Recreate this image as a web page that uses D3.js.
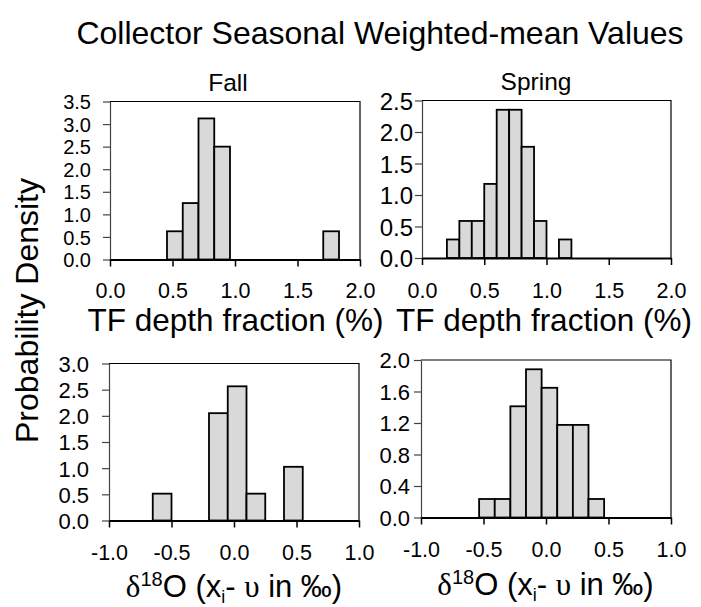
<!DOCTYPE html>
<html>
<head>
<meta charset="utf-8">
<script src="https://cdn.jsdelivr.net/npm/d3@7/dist/d3.min.js"></script>
<style>
  html, body { margin: 0; padding: 0; background: #fff; }
  svg { display: block; }
  text { font-family: "Liberation Sans", Arial, sans-serif; fill: #000; }
</style>
</head>
<body>
<svg id="chart" width="701" height="607"></svg>
<script>
// Histogram bins: lower edge, upper edge and probability density of each bar.
const fallTfX0 = [0.456, 0.582, 0.708, 0.834, 1.706];
const fallTfX1 = [0.582, 0.708, 0.834, 0.960, 1.832];
const fallTfDensity = [0.625, 1.25, 3.125, 2.5, 0.625];

const springTfX0 = [0.2, 0.3, 0.4, 0.5, 0.6, 0.7, 0.8, 0.9, 1.1];
const springTfX1 = [0.3, 0.4, 0.5, 0.6, 0.7, 0.8, 0.9, 1.0, 1.2];
const springTfDensity = [0.294, 0.588, 0.588, 1.176, 2.353, 2.353, 1.765, 0.588, 0.294];

const fallO18X0 = [-0.65, -0.2, -0.05, 0.1, 0.4];
const fallO18X1 = [-0.5, -0.05, 0.1, 0.25, 0.55];
const fallO18Density = [0.513, 2.051, 2.564, 0.513, 1.026];

const springO18X0 = [-0.535, -0.41, -0.285, -0.16, -0.035, 0.09, 0.215, 0.34];
const springO18X1 = [-0.41, -0.285, -0.16, -0.035, 0.09, 0.215, 0.34, 0.465];
const springO18Density = [0.235, 0.235, 1.412, 1.882, 1.647, 1.176, 1.176, 0.235];

// Axis ticks
const tfTicks = [0.0, 0.5, 1.0, 1.5, 2.0];
const o18Ticks = [-1.0, -0.5, 0.0, 0.5, 1.0];
const fallTfYTicks = [0.0, 0.5, 1.0, 1.5, 2.0, 2.5, 3.0, 3.5];
const springTfYTicks = [0.0, 0.5, 1.0, 1.5, 2.0, 2.5];
const fallO18YTicks = [0.0, 0.5, 1.0, 1.5, 2.0, 2.5, 3.0];
const springO18YTicks = [0.0, 0.4, 0.8, 1.2, 1.6, 2.0];

// Text
const chartTitle = "Collector Seasonal Weighted-mean Values";
const seasonLabels = ["Fall", "Spring"];
const yTitle = "Probability Density";
const tfTitle = "TF depth fraction (%)";

const svg = d3.select("#chart");
// one decimal, plain hyphen for negatives
const fmt = d3.formatLocale({ decimal: ".", thousands: ",", grouping: [3], currency: ["", ""], minus: "-" }).format(".1f");

function panel(cfg) {
  const x = d3.scaleLinear().domain(cfg.xDomain).range([cfg.left, cfg.right]);
  const y = d3.scaleLinear().domain(cfg.yDomain).range([cfg.bottom, cfg.top]);
  const g = svg.append("g");

  const bins = cfg.x0.map((d, i) => ({ x0: d, x1: cfg.x1[i], v: cfg.dens[i] }));
  g.selectAll("rect.bar").data(bins).join("rect")
    .attr("class", "bar")
    .attr("x", d => x(d.x0))
    .attr("y", d => y(d.v))
    .attr("width", d => x(d.x1) - x(d.x0))
    .attr("height", d => y(0) - y(d.v))
    .attr("fill", "#d9d9d9")
    .attr("stroke", "#000")
    .attr("stroke-width", 1.8);

  // thin top and right frame
  g.append("path")
    .attr("d", `M${cfg.left},${cfg.top}H${cfg.right}V${cfg.bottom}`)
    .attr("fill", "none").attr("stroke", "#000").attr("stroke-width", 1.2);

  // left axis
  const ya = g.append("g").attr("transform", `translate(${cfg.left},0)`)
    .call(d3.axisLeft(y).tickValues(cfg.yTicks).tickFormat(fmt).tickSize(7).tickSizeOuter(0).tickPadding(cfg.yPad));
  ya.select(".domain").attr("stroke", "#444").attr("stroke-width", 1.2);
  ya.selectAll(".tick line").attr("stroke", "#444").attr("stroke-width", 1.2);
  ya.selectAll(".tick text")
    .style("font-family", '"Liberation Sans", Arial, sans-serif')
    .style("font-size", cfg.yFont + "px").attr("fill", "#000")
    .attr("dy", "0.36em");

  // bottom axis
  const xa = g.append("g").attr("transform", `translate(0,${cfg.bottom})`)
    .call(d3.axisBottom(x).tickValues(cfg.xTicks).tickFormat(fmt).tickSize(7).tickSizeOuter(0));
  xa.select(".domain").attr("stroke", "#000").attr("stroke-width", 2.2);
  xa.selectAll(".tick line").attr("stroke", "#000").attr("stroke-width", 1.5);
  xa.selectAll(".tick text")
    .style("font-family", '"Liberation Sans", Arial, sans-serif')
    .style("font-size", "21.5px").attr("fill", "#000")
    .attr("y", cfg.xLabelOffset).attr("dy", 0);
}

panel({ left: 110, right: 360, top: 101.5, bottom: 259.5, xDomain: [0, 2], yDomain: [0, 3.5],
  x0: fallTfX0, x1: fallTfX1, dens: fallTfDensity, xTicks: tfTicks, yTicks: fallTfYTicks,
  yPad: 12, yFont: 20, xLabelOffset: 38.5 });
panel({ left: 422, right: 671, top: 100.5, bottom: 258, xDomain: [0, 2], yDomain: [0, 2.5],
  x0: springTfX0, x1: springTfX1, dens: springTfDensity, xTicks: tfTicks, yTicks: springTfYTicks,
  yPad: 2, yFont: 24, xLabelOffset: 40 });
panel({ left: 109, right: 359, top: 363.5, bottom: 520.5, xDomain: [-1, 1], yDomain: [0, 3],
  x0: fallO18X0, x1: fallO18X1, dens: fallO18Density, xTicks: o18Ticks, yTicks: fallO18YTicks,
  yPad: 13, yFont: 22, xLabelOffset: 39 });
panel({ left: 421, right: 671, top: 360, bottom: 517.5, xDomain: [-1, 1], yDomain: [0, 2],
  x0: springO18X0, x1: springO18X1, dens: springO18Density, xTicks: o18Ticks, yTicks: springO18YTicks,
  yPad: 4, yFont: 22, xLabelOffset: 39 });

// Titles
svg.append("text").attr("x", 380).attr("y", 44).attr("text-anchor", "middle")
  .style("font-size", "32px").text(chartTitle);
svg.append("text").attr("x", 228).attr("y", 91).attr("text-anchor", "middle")
  .style("font-size", "24.5px").text(seasonLabels[0]);
svg.append("text").attr("x", 536).attr("y", 89.5).attr("text-anchor", "middle")
  .style("font-size", "24.5px").text(seasonLabels[1]);

svg.append("text").attr("transform", "translate(38,310.5) rotate(-90)").attr("text-anchor", "middle")
  .style("font-size", "32px").text(yTitle);

[[235.5, 331], [544, 331]].forEach(([cx, cy]) => {
  svg.append("text").attr("x", cx).attr("y", cy).attr("text-anchor", "middle")
    .style("font-size", "31.5px").text(tfTitle);
});

// δ18O (x_i - υ in ‰) titles
function o18Title(cx, cy) {
  const t = svg.append("text").attr("x", cx).attr("y", cy).attr("text-anchor", "middle")
    .style("font-size", "31px");
  t.append("tspan").style("font-family", '"Liberation Serif", "Times New Roman", serif').text("δ");
  t.append("tspan").attr("dy", -11).style("font-size", "20px").text("18");
  t.append("tspan").attr("dy", 11).text("O (x");
  t.append("tspan").attr("dy", 6).style("font-size", "18px").text("i");
  t.append("tspan").attr("dy", -6).text("- ");
  t.append("tspan").style("font-family", '"Liberation Serif", "Times New Roman", serif').text("υ");
  t.append("tspan").text(" in ‰)");
}
o18Title(234, 596.5);
o18Title(545.5, 595);
</script>
</body>
</html>
